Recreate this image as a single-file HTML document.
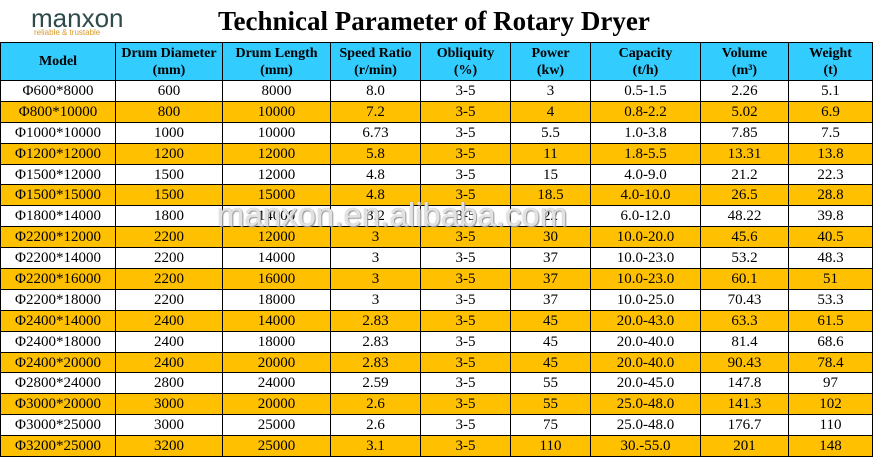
<!DOCTYPE html>
<html><head><meta charset="utf-8"><style>
body{margin:0;width:874px;height:461px;background:#fff;position:relative;overflow:hidden;font-family:"Liberation Serif",serif}
.logo{position:absolute;left:31px;top:4px;font-family:"Liberation Sans",sans-serif;font-size:26px;color:#2f4a4a;letter-spacing:0;font-weight:normal;line-height:28px}
.tag{position:absolute;left:34px;top:28px;font-family:"Liberation Sans",sans-serif;font-size:8px;color:#d89a2a}
.title{position:absolute;left:218px;top:6px;font-size:27px;font-weight:bold;color:#000}
table{position:absolute;left:0;top:42px;width:872px;border-collapse:collapse;table-layout:fixed}
td,th{border:1.5px solid #000;text-align:center;padding:0;font-size:15px;line-height:16px}
th{background:#33CCFF;height:37px;font-size:14px;font-weight:bold;line-height:17px}
tr.d td{height:19.9px}
tr.o td{background:#FFC000}
.wm{position:absolute;left:217px;top:196px;font-family:"Liberation Sans",sans-serif;font-size:33px;color:rgba(255,255,255,0.75);text-shadow:0 0 1px #888,1px 1px 1px #999}
</style></head><body>
<div class="logo">manxon</div>
<div class="tag">reliable &amp; trustable</div>
<div class="title">Technical Parameter of Rotary Dryer</div>
<table>
<colgroup><col style="width:115px"><col style="width:107px"><col style="width:108px"><col style="width:90px"><col style="width:90px"><col style="width:80px"><col style="width:110px"><col style="width:88px"><col style="width:84px"></colgroup>
<tr><th>Model</th><th>Drum Diameter<br>(mm)</th><th>Drum Length<br>(mm)</th><th>Speed Ratio<br>(r/min)</th><th>Obliquity<br>(%)</th><th>Power<br>(kw)</th><th>Capacity<br>(t/h)</th><th>Volume<br>(m³)</th><th>Weight<br>(t)</th></tr>
<tr class="d"><td>Φ600*8000</td><td>600</td><td>8000</td><td>8.0</td><td>3-5</td><td>3</td><td>0.5-1.5</td><td>2.26</td><td>5.1</td></tr>
<tr class="d o"><td>Φ800*10000</td><td>800</td><td>10000</td><td>7.2</td><td>3-5</td><td>4</td><td>0.8-2.2</td><td>5.02</td><td>6.9</td></tr>
<tr class="d"><td>Φ1000*10000</td><td>1000</td><td>10000</td><td>6.73</td><td>3-5</td><td>5.5</td><td>1.0-3.8</td><td>7.85</td><td>7.5</td></tr>
<tr class="d o"><td>Φ1200*12000</td><td>1200</td><td>12000</td><td>5.8</td><td>3-5</td><td>11</td><td>1.8-5.5</td><td>13.31</td><td>13.8</td></tr>
<tr class="d"><td>Φ1500*12000</td><td>1500</td><td>12000</td><td>4.8</td><td>3-5</td><td>15</td><td>4.0-9.0</td><td>21.2</td><td>22.3</td></tr>
<tr class="d o"><td>Φ1500*15000</td><td>1500</td><td>15000</td><td>4.8</td><td>3-5</td><td>18.5</td><td>4.0-10.0</td><td>26.5</td><td>28.8</td></tr>
<tr class="d"><td>Φ1800*14000</td><td>1800</td><td>14000</td><td>3.2</td><td>3-5</td><td>22</td><td>6.0-12.0</td><td>48.22</td><td>39.8</td></tr>
<tr class="d o"><td>Φ2200*12000</td><td>2200</td><td>12000</td><td>3</td><td>3-5</td><td>30</td><td>10.0-20.0</td><td>45.6</td><td>40.5</td></tr>
<tr class="d"><td>Φ2200*14000</td><td>2200</td><td>14000</td><td>3</td><td>3-5</td><td>37</td><td>10.0-23.0</td><td>53.2</td><td>48.3</td></tr>
<tr class="d o"><td>Φ2200*16000</td><td>2200</td><td>16000</td><td>3</td><td>3-5</td><td>37</td><td>10.0-23.0</td><td>60.1</td><td>51</td></tr>
<tr class="d"><td>Φ2200*18000</td><td>2200</td><td>18000</td><td>3</td><td>3-5</td><td>37</td><td>10.0-25.0</td><td>70.43</td><td>53.3</td></tr>
<tr class="d o"><td>Φ2400*14000</td><td>2400</td><td>14000</td><td>2.83</td><td>3-5</td><td>45</td><td>20.0-43.0</td><td>63.3</td><td>61.5</td></tr>
<tr class="d"><td>Φ2400*18000</td><td>2400</td><td>18000</td><td>2.83</td><td>3-5</td><td>45</td><td>20.0-40.0</td><td>81.4</td><td>68.6</td></tr>
<tr class="d o"><td>Φ2400*20000</td><td>2400</td><td>20000</td><td>2.83</td><td>3-5</td><td>45</td><td>20.0-40.0</td><td>90.43</td><td>78.4</td></tr>
<tr class="d"><td>Φ2800*24000</td><td>2800</td><td>24000</td><td>2.59</td><td>3-5</td><td>55</td><td>20.0-45.0</td><td>147.8</td><td>97</td></tr>
<tr class="d o"><td>Φ3000*20000</td><td>3000</td><td>20000</td><td>2.6</td><td>3-5</td><td>55</td><td>25.0-48.0</td><td>141.3</td><td>102</td></tr>
<tr class="d"><td>Φ3000*25000</td><td>3000</td><td>25000</td><td>2.6</td><td>3-5</td><td>75</td><td>25.0-48.0</td><td>176.7</td><td>110</td></tr>
<tr class="d o"><td>Φ3200*25000</td><td>3200</td><td>25000</td><td>3.1</td><td>3-5</td><td>110</td><td>30.-55.0</td><td>201</td><td>148</td></tr>
</table>
<div class="wm">manxon.en.alibaba.com</div>
</body></html>
